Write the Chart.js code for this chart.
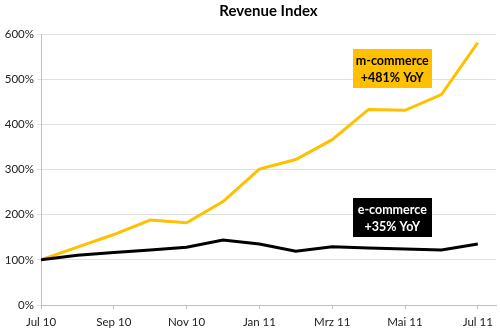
<!DOCTYPE html>
<html>
<head>
<meta charset="utf-8">
<script src="https://cdn.jsdelivr.net/npm/chart.js@4/dist/chart.umd.min.js"></script>
<style>
  html, body { margin: 0; padding: 0; background: #fff; }
  #wrap { width: 500px; height: 332px; }
</style>
</head>
<body>
<div id="wrap"><canvas id="chart"></canvas></div>
<script>
// months, German abbreviations as in the original
const months = ["Jul 10", "Aug 10", "Sep 10", "Okt 10", "Nov 10", "Dez 10",
                "Jan 11", "Feb 11", "Mrz 11", "Apr 11", "Mai 11", "Jun 11", "Jul 11"];
const mCommerce = [100, 128, 156, 188, 182, 229, 301, 322, 366, 433, 431, 466, 581];
const eCommerce = [100, 110, 116, 122, 128, 144, 135, 119, 129, 126, 124, 122, 135];
const yTicks = [0, 100, 200, 300, 400, 500, 600];

// callout boxes (placed in data units)
const notes = [
    { lines: ["m-commerce", "+481% YoY"], at: 9.65, value: 523, bg: "#FFC000", fg: "#000" },
    { lines: ["e-commerce", "+35% YoY"], at: 9.65, value: 193, bg: "#000", fg: "#fff" }
];

const font = "Lato, 'Liberation Sans', sans-serif";

const calloutPlugin = {
    id: "callouts",
    afterDatasetsDraw(chart) {
        const ctx = chart.ctx;
        const xs = chart.scales.x, ys = chart.scales.y;
        notes.forEach(n => {
            const cx = xs.getPixelForValue(n.at);
            const cy = ys.getPixelForValue(n.value);
            const w = 79, h = 39;
            ctx.save();
            ctx.fillStyle = n.bg;
            ctx.fillRect(Math.round(cx - w / 2), Math.round(cy - h / 2), w, h);
            ctx.fillStyle = n.fg;
            ctx.font = "bold 12.5px " + font;
            ctx.textAlign = "center";
            ctx.textBaseline = "middle";
            ctx.fillText(n.lines[0], cx, cy - 8);
            ctx.fillText(n.lines[1], cx, cy + 9);
            ctx.restore();
        });
    }
};

const toPoints = arr => arr.map((v, i) => ({ x: i, y: v }));

new Chart(document.getElementById("chart"), {
    type: "line",
    data: {
        datasets: [
            {
                label: "e-commerce",
                data: toPoints(eCommerce),
                borderColor: "#000",
                borderWidth: 3,
                pointRadius: 0,
                tension: 0,
                fill: false
            },
            {
                label: "m-commerce",
                data: toPoints(mCommerce),
                borderColor: "#FFC000",
                borderWidth: 3,
                pointRadius: 0,
                tension: 0,
                fill: false
            }
        ]
    },
    options: {
        responsive: true,
        maintainAspectRatio: false,
        animation: false,
        layout: { padding: { left: 0, right: 4, top: 0, bottom: 0 } },
        plugins: {
            legend: { display: false },
            tooltip: { enabled: false },
            title: {
                display: true,
                text: "Revenue Index",
                fullSize: false,
                color: "#000",
                font: { family: font, size: 15, weight: "bold" },
                padding: { top: 2, bottom: 14 }
            }
        },
        scales: {
            x: {
                type: "linear",
                min: 0,
                max: months.length - 0.5,
                afterFit: s => { s.height = 27; },
                grid: { drawOnChartArea: false, drawTicks: true, tickLength: 4, color: "#bfbfbf" },
                border: { color: "#bfbfbf", width: 1 },
                ticks: {
                    stepSize: 2,
                    includeBounds: false,
                    autoSkip: false,
                    maxRotation: 0,
                    padding: 6,
                    color: "#222",
                    font: { family: font, size: 11.5 },
                    callback: v => months[v] || ""
                }
            },
            y: {
                min: 0,
                max: 600,
                afterFit: s => { s.width = 41; },
                afterBuildTicks: s => { s.ticks = yTicks.map(v => ({ value: v })); },
                grid: { color: "#e0e0e0", tickLength: 4, drawTicks: true },
                border: { color: "#bfbfbf", width: 1 },
                ticks: {
                    padding: 3,
                    color: "#222",
                    font: { family: font, size: 11.5 },
                    callback: v => v + "%"
                }
            }
        }
    },
    plugins: [calloutPlugin]
});
</script>
</body>
</html>
